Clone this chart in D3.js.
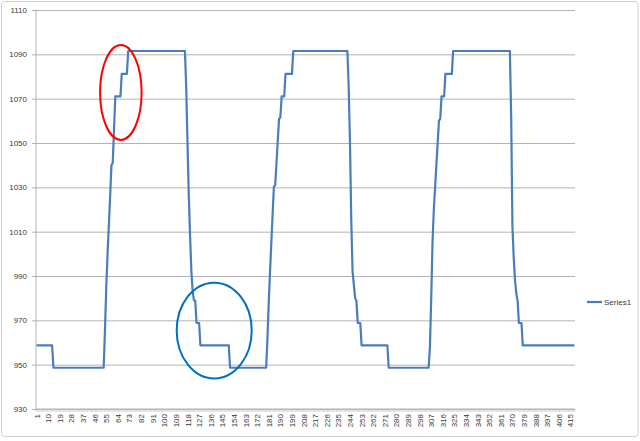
<!DOCTYPE html>
<html>
<head>
<meta charset="utf-8">
<script src="https://cdn.jsdelivr.net/npm/d3@7"></script>
<style>
  body { margin: 0; background: #fff; }
  svg { display: block; font-family: "Liberation Sans", Arial, sans-serif; }
</style>
</head>
<body>
<svg id="chart" width="640" height="441"></svg>
<script>
// values, one value per category (1..418)
const series1 = [
  958.7, 958.7, 958.7, 958.7, 958.7, 958.7, 958.7, 958.7, 958.7, 958.7, 958.7, 958.7, 958.7,
  948.6, 948.6, 948.6, 948.6, 948.6, 948.6, 948.6, 948.6, 948.6, 948.6, 948.6, 948.6, 948.6,
  948.6, 948.6, 948.6, 948.6, 948.6, 948.6, 948.6, 948.6, 948.6, 948.6, 948.6, 948.6, 948.6,
  948.6, 948.6, 948.6, 948.6, 948.6, 948.6, 948.6, 948.6, 948.6, 948.6, 948.6, 948.6, 948.6,
  948.6, 966, 985, 1000, 1013, 1026, 1040, 1041, 1056,
  1071, 1071, 1071, 1071, 1071,
  1081.2, 1081.2, 1081.2, 1081.2, 1081.2,
  1091.5, 1091.5, 1091.5, 1091.5, 1091.5, 1091.5, 1091.5, 1091.5, 1091.5, 1091.5, 1091.5, 1091.5, 1091.5, 1091.5, 1091.5,
  1091.5, 1091.5, 1091.5, 1091.5, 1091.5, 1091.5, 1091.5, 1091.5, 1091.5, 1091.5, 1091.5, 1091.5, 1091.5, 1091.5, 1091.5,
  1091.5, 1091.5, 1091.5, 1091.5, 1091.5, 1091.5, 1091.5, 1091.5, 1091.5, 1091.5, 1091.5, 1091.5, 1091.5, 1091.5, 1091.5,
  1075, 1050, 1026, 1008, 992, 983, 979, 978.8,
  968.8, 968.8, 968.8,
  958.7, 958.7, 958.7, 958.7, 958.7, 958.7, 958.7, 958.7, 958.7, 958.7, 958.7, 958.7,
  958.7, 958.7, 958.7, 958.7, 958.7, 958.7, 958.7, 958.7, 958.7, 958.7, 958.7,
  948.6, 948.6, 948.6, 948.6, 948.6, 948.6, 948.6, 948.6, 948.6, 948.6, 948.6, 948.6, 948.6, 948.6, 948.6,
  948.6, 948.6, 948.6, 948.6, 948.6, 948.6, 948.6, 948.6, 948.6, 948.6, 948.6, 948.6, 948.6, 948.6,
  962, 978, 992, 1005, 1018, 1030.3, 1031, 1041, 1051, 1061, 1061.5,
  1071, 1071, 1071,
  1081.2, 1081.2, 1081.2, 1081.2, 1081.2, 1081.2,
  1091.5, 1091.5, 1091.5, 1091.5, 1091.5, 1091.5, 1091.5, 1091.5, 1091.5, 1091.5, 1091.5, 1091.5, 1091.5, 1091.5, 1091.5,
  1091.5, 1091.5, 1091.5, 1091.5, 1091.5, 1091.5, 1091.5, 1091.5, 1091.5, 1091.5, 1091.5, 1091.5, 1091.5, 1091.5,
  1091.5, 1091.5, 1091.5, 1091.5, 1091.5, 1091.5, 1091.5, 1091.5, 1091.5, 1091.5, 1091.5, 1091.5, 1091.5, 1091.5,
  1075, 1050, 1015, 992, 986, 980, 978.8,
  968.8, 968.8, 968.8,
  958.7, 958.7, 958.7, 958.7, 958.7, 958.7, 958.7, 958.7, 958.7, 958.7, 958.7,
  958.7, 958.7, 958.7, 958.7, 958.7, 958.7, 958.7, 958.7, 958.7, 958.7,
  948.6, 948.6, 948.6, 948.6, 948.6, 948.6, 948.6, 948.6, 948.6, 948.6, 948.6, 948.6, 948.6, 948.6, 948.6, 948.6,
  948.6, 948.6, 948.6, 948.6, 948.6, 948.6, 948.6, 948.6, 948.6, 948.6, 948.6, 948.6, 948.6, 948.6, 948.6, 948.6,
  958, 980, 1005, 1020, 1030, 1040, 1050, 1060, 1061,
  1071, 1071, 1071,
  1081.2, 1081.2, 1081.2, 1081.2, 1081.2, 1081.2,
  1091.5, 1091.5, 1091.5, 1091.5, 1091.5, 1091.5, 1091.5, 1091.5, 1091.5, 1091.5, 1091.5, 1091.5, 1091.5, 1091.5, 1091.5,
  1091.5, 1091.5, 1091.5, 1091.5, 1091.5, 1091.5, 1091.5, 1091.5, 1091.5, 1091.5, 1091.5, 1091.5, 1091.5, 1091.5, 1091.5,
  1091.5, 1091.5, 1091.5, 1091.5, 1091.5, 1091.5, 1091.5, 1091.5, 1091.5, 1091.5, 1091.5, 1091.5, 1091.5, 1091.5, 1091.5,
  1062, 1012, 998, 988, 982, 978.8,
  968.8, 968.8, 968.8,
  958.7, 958.7, 958.7, 958.7, 958.7, 958.7, 958.7, 958.7, 958.7, 958.7, 958.7, 958.7, 958.7, 958.7,
  958.7, 958.7, 958.7, 958.7, 958.7, 958.7, 958.7, 958.7, 958.7, 958.7, 958.7, 958.7, 958.7, 958.7,
  958.7, 958.7, 958.7, 958.7, 958.7, 958.7, 958.7, 958.7, 958.7, 958.7, 958.7, 958.7, 958.7
];

const categories = series1.map((d, i) => i + 1);

const xTickLabels = [1, 10, 19, 28, 37, 46, 55, 64, 73, 82, 91, 100, 109, 118, 127, 136, 145, 154,
  163, 172, 181, 190, 199, 208, 217, 226, 235, 244, 253, 262, 271, 280, 289, 298, 307, 316,
  325, 334, 343, 352, 361, 370, 379, 388, 397, 406, 415];

const yTickLabels = [930, 950, 970, 990, 1010, 1030, 1050, 1070, 1090, 1110];

const seriesName = 'Series1';

// hand drawn ellipses on the picture, in category / value units
const annotations = [
  { cat: 66.3, val: 1072.8, rCat: 16.1, rVal: 21.4, color: '#ff0000' },
  { cat: 138.7, val: 965.4, rCat: 29.1, rVal: 21.6, color: '#0070c0' }
];

const svg = d3.select('#chart');
const width = +svg.attr('width');
const height = +svg.attr('height');

const margin = { left: 36, right: 65, top: 10, bottom: 32 };
const lineColor = '#4a7ebb';
const gridColor = '#b3b3b3';
const textColor = '#3a3a3a';

// chart area border
svg.append('rect')
  .attr('x', 1.5).attr('y', 1.5)
  .attr('width', width - 3.5).attr('height', height - 6)
  .attr('rx', 3)
  .attr('fill', '#fff')
  .attr('stroke', '#d0d0d0');

const x = d3.scaleLinear()
  .domain([0.5, categories.length + 0.5])
  .range([margin.left, width - margin.right]);

const y = d3.scaleLinear()
  .domain([930, 1110])
  .range([height - margin.bottom, margin.top]);

// gridlines + y ticks
const yAxis = d3.axisLeft(y)
  .tickValues(yTickLabels)
  .tickSize(-(x.range()[1] - x.range()[0]))
  .tickPadding(9)
  .tickFormat(d3.format('d'));

const gy = svg.append('g')
  .attr('transform', 'translate(' + margin.left + ',0)')
  .call(yAxis);
gy.select('.domain').remove();
gy.selectAll('.tick line')
  .attr('stroke', gridColor)
  .attr('x1', -4);
gy.selectAll('.tick text')
  .attr('fill', textColor)
  .style('font-size', '8px');

// y axis line
svg.append('line')
  .attr('x1', margin.left).attr('x2', margin.left)
  .attr('y1', y(1110)).attr('y2', y(930))
  .attr('stroke', gridColor);

// x axis: minor ticks at every category boundary
svg.append('g')
  .selectAll('line')
  .data(d3.range(categories.length + 1))
  .enter()
  .append('line')
  .attr('x1', (d) => x(d + 0.5))
  .attr('x2', (d) => x(d + 0.5))
  .attr('y1', y(930))
  .attr('y2', y(930) + 3)
  .attr('stroke', '#c4c4c4')
  .attr('stroke-width', 0.6);

svg.append('line')
  .attr('x1', x.range()[0]).attr('x2', x.range()[1])
  .attr('y1', y(930)).attr('y2', y(930))
  .attr('stroke', gridColor);

svg.append('g')
  .selectAll('text')
  .data(xTickLabels)
  .enter()
  .append('text')
  .attr('transform', (d) => 'translate(' + (x(d) + 3) + ',' + (y(930) + 5) + ') rotate(-90)')
  .attr('text-anchor', 'end')
  .attr('fill', textColor)
  .style('font-size', '8px')
  .text((d) => d);

// the series
const line = d3.line()
  .x((d, i) => x(categories[i]))
  .y((d) => y(d));

svg.append('path')
  .datum(series1)
  .attr('d', line)
  .attr('fill', 'none')
  .attr('stroke', lineColor)
  .attr('stroke-width', 2.2)
  .attr('stroke-linejoin', 'round');

// annotations
svg.append('g')
  .selectAll('ellipse')
  .data(annotations)
  .enter()
  .append('ellipse')
  .attr('cx', (d) => x(d.cat))
  .attr('cy', (d) => y(d.val))
  .attr('rx', (d) => x(d.cat + d.rCat) - x(d.cat))
  .attr('ry', (d) => y(d.val - d.rVal) - y(d.val))
  .attr('fill', 'none')
  .attr('stroke', (d) => d.color)
  .attr('stroke-width', 2);

// legend
const legend = svg.append('g')
  .attr('transform', 'translate(' + 587 + ',' + 302 + ')');
legend.append('line')
  .attr('x1', 0).attr('x2', 15)
  .attr('stroke', lineColor)
  .attr('stroke-width', 2.2);
legend.append('text')
  .attr('x', 17).attr('y', 3)
  .attr('fill', textColor)
  .style('font-size', '8px')
  .text(seriesName);
</script>
</body>
</html>
